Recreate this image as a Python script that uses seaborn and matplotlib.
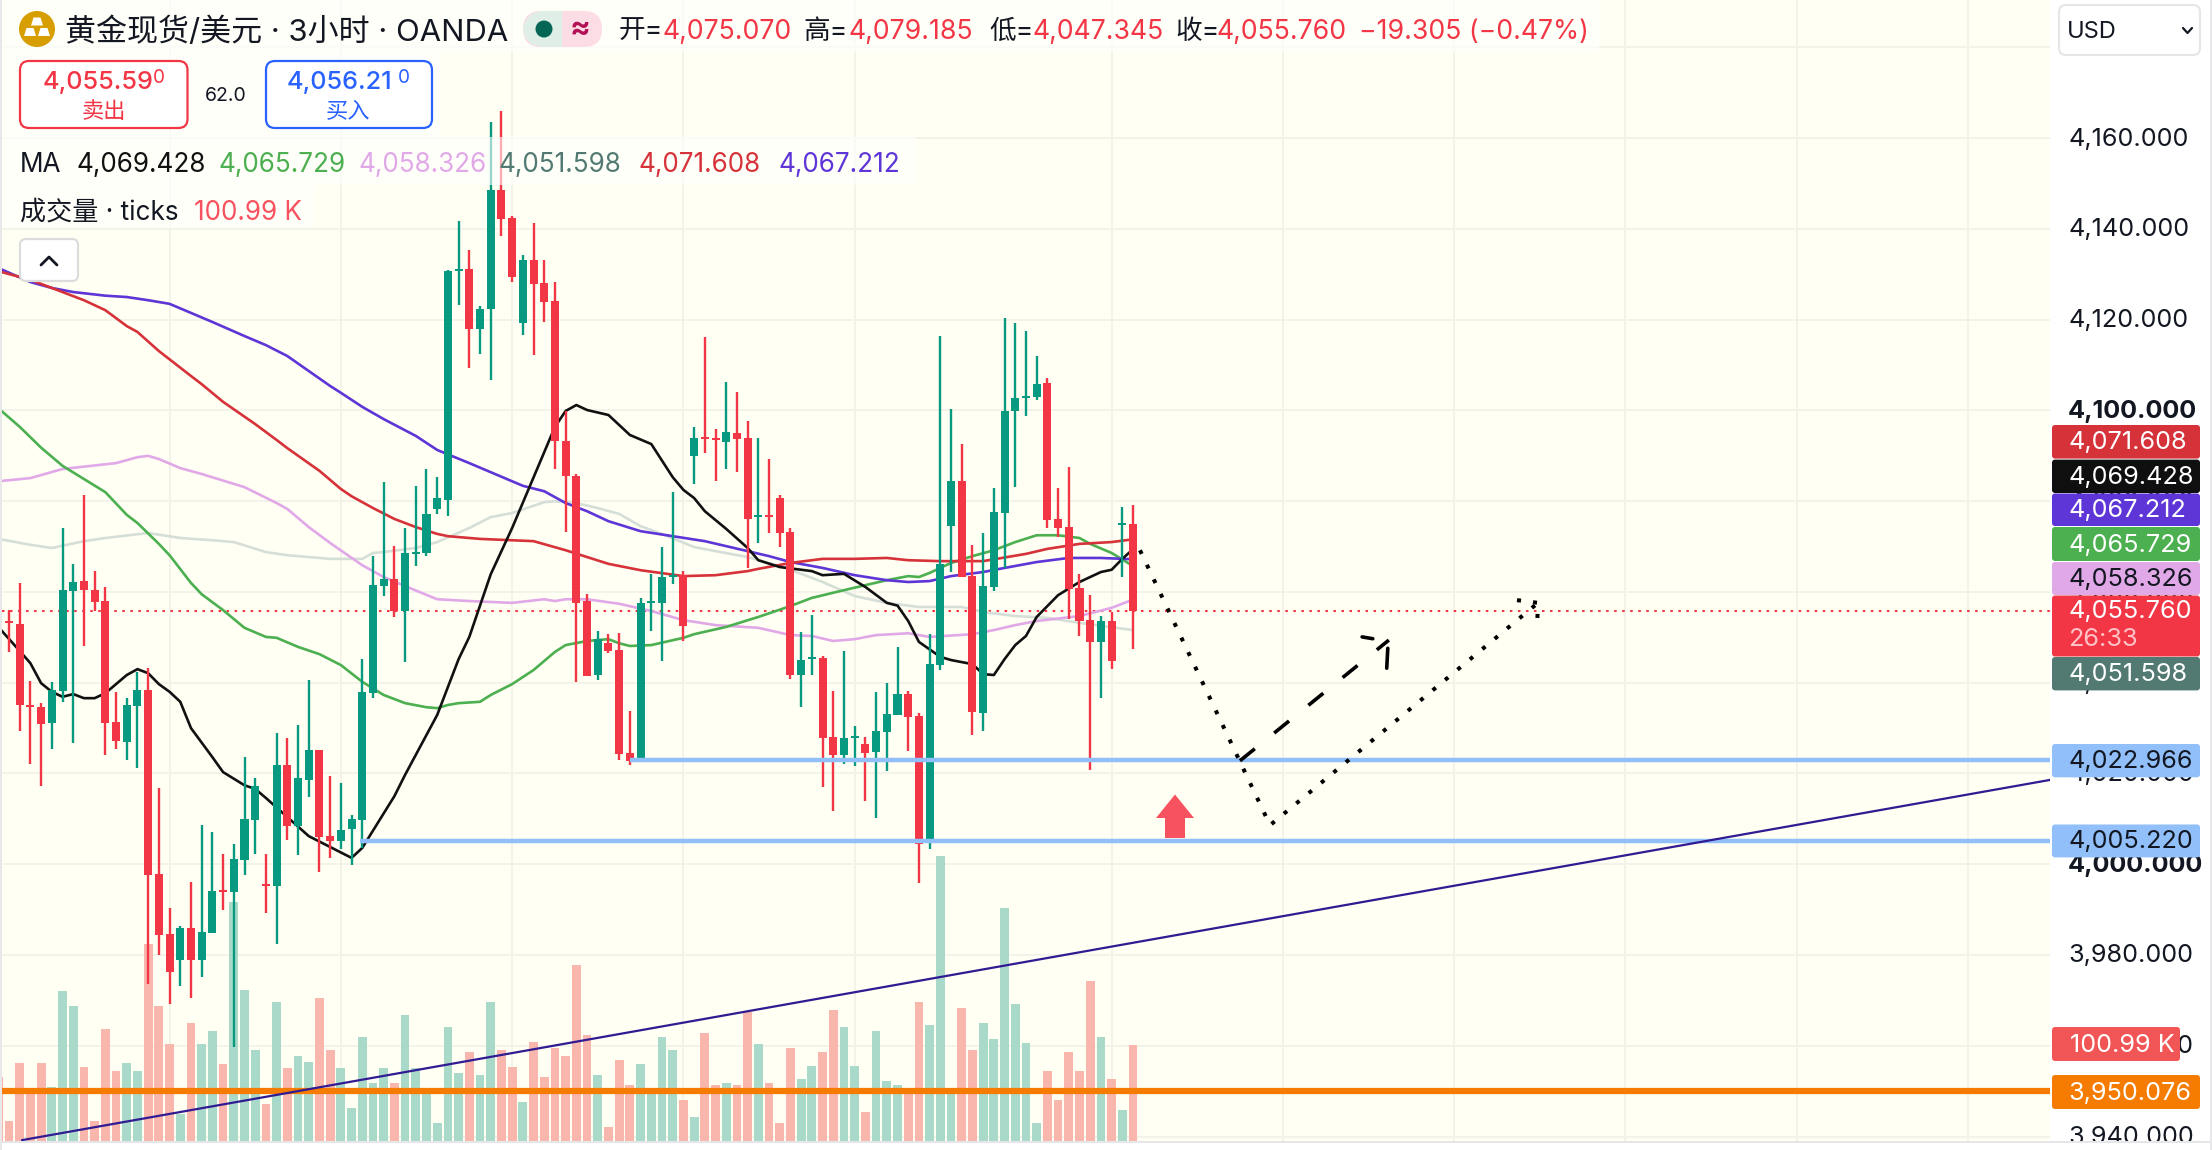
# Gold spot / USD, 3h candles with six moving averages and tick volume

import numpy as np
import pandas as pd
import matplotlib.pyplot as plt
import seaborn as sns
from matplotlib.patches import Circle, FancyBboxPatch, Polygon, Rectangle

# --- Data ---

opens = [4053.5, 4052.9, 4035.0, 4034.6, 4031.1, 4038.2, 4060.2, 4062.4, 4060.4, 4058.0,
         4031.3, 4027.0, 4034.9, 4038.4, 3997.8, 3984.6, 3978.9, 3985.9, 3978.9, 3984.8,
         3994.3, 3993.9, 4000.9, 4009.7, 3995.5, 3995.2, 4021.9, 4008.4, 4018.6, 4025.2,
         4006.2, 4005.1, 4007.8, 4009.7, 4037.7, 4061.3, 4062.9, 4055.8, 4068.5, 4068.6,
         4078.3, 4080.3, 4130.8, 4131.2, 4117.9, 4122.4, 4148.6, 4142.4, 4119.3, 4133.2,
         4128.1, 4124.1, 4093.3, 4085.6, 4058.0, 4041.7, 4048.7, 4047.2, 4024.5, 4022.8,
         4057.7, 4057.6, 4063.4, 4063.7, 4090.0, 4094.0, 4093.8, 4093.0, 4095.0, 4093.9,
         4076.6, 4076.8, 4080.7, 4073.2, 4041.7, 4045.4, 4045.5, 4028.0, 4024.1, 4027.9,
         4026.5, 4024.7, 4029.1, 4032.9, 4037.5, 4032.7, 4004.7, 4043.9, 4074.5, 4084.5,
         4063.5, 4033.3, 4061.1, 4077.4, 4099.9, 4102.9, 4103.0, 4106.0, 4076.1, 4074.3,
         4060.9, 4053.8, 4049.0, 4053.6, 4074.8, 4075.07]
highs = [4056.0, 4062.0, 4040.4, 4035.5, 4040.2, 4074.1, 4066.2, 4081.4, 4064.6, 4061.1,
         4038.0, 4036.6, 4042.4, 4043.2, 4016.8, 3990.3, 3986.4, 3996.1, 4008.6, 4007.1,
         4002.2, 4004.4, 4023.6, 4019.0, 4002.2, 4028.9, 4027.8, 4030.7, 4040.6, 4025.2,
         4019.4, 4017.9, 4010.8, 4045.2, 4067.9, 4084.2, 4070.1, 4074.1, 4083.4, 4087.1,
         4085.3, 4131.0, 4141.8, 4135.4, 4123.0, 4163.6, 4166.0, 4142.9, 4134.3, 4141.3,
         4133.2, 4128.3, 4099.9, 4086.0, 4059.5, 4051.4, 4050.7, 4051.0, 4033.8, 4058.7,
         4064.0, 4069.9, 4082.0, 4064.6, 4096.4, 4116.2, 4095.9, 4106.3, 4104.1, 4097.7,
         4093.9, 4089.3, 4081.4, 4074.1, 4051.2, 4054.9, 4045.9, 4038.2, 4047.0, 4030.5,
         4028.0, 4038.0, 4040.0, 4047.9, 4038.2, 4033.3, 4050.7, 4116.4, 4100.3, 4092.6,
         4070.4, 4073.0, 4082.9, 4120.4, 4119.3, 4117.5, 4112.0, 4107.1, 4082.9, 4087.5,
         4064.0, 4059.3, 4054.7, 4055.6, 4078.7, 4079.185]
lows = [4046.8, 4029.4, 4022.1, 4017.2, 4025.4, 4035.8, 4026.7, 4048.1, 4055.8, 4024.1,
        4025.4, 4023.0, 4021.2, 3973.6, 3979.9, 3969.2, 3973.2, 3970.5, 3975.1, 3984.8,
        3989.9, 3959.7, 3997.6, 4002.2, 3989.3, 3982.4, 4005.3, 4002.0, 4014.8, 3998.3,
        4001.4, 4003.4, 3999.8, 4003.6, 4036.6, 4059.1, 4054.5, 4044.6, 4065.7, 4067.9,
        4077.2, 4076.7, 4123.2, 4109.4, 4112.4, 4106.7, 4138.4, 4128.3, 4116.6, 4112.2,
        4119.5, 4087.1, 4073.2, 4040.2, 4041.5, 4040.6, 4046.5, 4023.0, 4021.9, 4022.8,
        4051.4, 4044.8, 4061.8, 4049.2, 4083.8, 4090.6, 4084.5, 4087.1, 4086.4, 4065.3,
        4070.8, 4073.0, 4069.9, 4040.8, 4034.6, 4041.7, 4017.0, 4011.7, 4022.1, 4021.6,
        4013.9, 4010.2, 4020.5, 4032.9, 4024.9, 3995.9, 4003.4, 4042.8, 4064.4, 4063.3,
        4028.5, 4029.4, 4060.2, 4065.3, 4083.1, 4098.8, 4102.3, 4074.1, 4072.1, 4054.0,
        4050.3, 4020.8, 4036.6, 4043.0, 4063.3, 4047.345]
closes = [4053.2, 4035.1, 4034.7, 4030.9, 4038.4, 4060.4, 4062.2, 4060.4, 4057.8, 4031.1,
          4027.2, 4035.1, 4038.4, 3997.6, 3984.4, 3976.2, 3985.9, 3978.9, 3985.0, 3994.1,
          3994.0, 4001.1, 4010.0, 4017.2, 3995.2, 4021.9, 4008.4, 4019.0, 4025.2, 4006.0,
          4005.1, 4007.5, 4010.0, 4038.0, 4061.5, 4062.9, 4055.8, 4068.6, 4068.8, 4077.2,
          4080.7, 4130.7, 4131.1, 4117.9, 4122.4, 4148.6, 4142.2, 4129.4, 4133.2, 4127.9,
          4123.9, 4093.3, 4085.6, 4057.6, 4041.5, 4049.6, 4046.9, 4024.3, 4022.8, 4057.6,
          4058.0, 4063.3, 4063.7, 4052.5, 4093.9, 4093.7, 4093.5, 4095.2, 4093.7, 4076.1,
          4076.9, 4076.5, 4073.0, 4041.7, 4045.0, 4045.7, 4027.8, 4024.1, 4027.8, 4028.2,
          4024.5, 4029.4, 4033.1, 4037.5, 4032.4, 4004.4, 4044.1, 4066.2, 4084.5, 4063.3,
          4033.5, 4061.3, 4077.6, 4099.9, 4102.7, 4103.2, 4105.8, 4075.9, 4074.1, 4060.6,
          4053.6, 4049.0, 4053.6, 4044.8, 4075.1, 4055.76]

# the first volume bar belongs to a candle cut off by the left edge (bar -1)
volumes = [67.0, 20.0, 82.0, 54.7, 82.0, 55.8, 156.8, 141.0, 76.8, 20.0, 117.8, 73.6, 82.0, 73.6,
           206.2, 142.0, 101.0, 28.0, 123.1, 101.0, 114.7, 81.0, 250.4, 157.8, 95.7, 37.9, 145.2,
           75.8, 89.4, 83.1, 149.4, 95.7, 75.8, 33.7, 108.4, 60.0, 75.8, 61.0, 131.5, 75.8, 49.0,
           17.9, 118.9, 70.5, 92.6, 69.4, 146.2, 94.7, 76.8, 41.0, 103.1, 66.3, 96.8, 89.4, 184.1,
           110.5, 69.4, 13.7, 84.2, 57.9, 80.0, 50.9, 109.4, 95.7, 42.1, 24.2, 113.6, 58.9, 60.0,
           58.9, 134.7, 101.0, 60.0, 18.9, 96.8, 65.2, 77.9, 92.6, 137.8, 119.9, 77.9, 29.5, 115.7,
           62.1, 57.9, 49.1, 145.2, 121.0, 299.8, 49.8, 139.9, 95.7, 124.1, 107.3, 245.1, 143.1,
           102.1, 18.9, 72.6, 42.1, 93.6, 73.6, 168.3, 108.4, 65.2, 31.6, 100.99]

ma_black_x = [-1, 1, 2, 3, 4, 5, 6, 7, 8, 9, 11, 12, 13, 14, 15, 16, 17, 19, 20, 22, 23, 24, 26, 28,
              30, 32, 33, 36, 37, 40, 42, 43, 45, 47, 51, 52, 53, 54, 56, 58, 60, 62, 63, 64, 65,
              67, 69, 70, 72, 75, 76, 78, 80, 82, 83, 84, 85, 87, 88, 90, 91, 92, 93, 94, 95, 96,
              98, 100, 102, 103, 104, 105]
ma_black_y = [4052.3, 4047.0, 4044.3, 4039.9, 4038.0, 4036.9, 4037.5, 4036.6, 4036.6, 4037.7, 4041.7,
              4043.0, 4042.1, 4039.7, 4038.0, 4035.8, 4030.0, 4023.6, 4020.3, 4017.4, 4016.6, 4014.6,
              4010.4, 4006.2, 4003.8, 4001.4, 4003.6, 4015.0, 4019.7, 4032.9, 4045.2, 4050.1, 4063.9,
              4074.1, 4096.4, 4099.9, 4101.2, 4100.1, 4099.0, 4094.6, 4092.6, 4085.3, 4082.5, 4080.7,
              4077.8, 4073.9, 4069.7, 4067.0, 4065.5, 4064.6, 4063.7, 4064.0, 4061.1, 4057.6, 4057.0,
              4053.6, 4049.0, 4045.7, 4045.0, 4044.1, 4041.9, 4041.7, 4045.2, 4048.3, 4050.3, 4054.5,
              4059.3, 4062.2, 4064.4, 4064.9, 4067.3, 4069.428]

ma_green_x = [-1, 1, 3, 5, 7, 9, 11, 12, 14, 15, 17, 18, 20, 22, 24, 25, 27, 29, 31, 33, 35, 37, 39,
              40, 41, 42, 44, 45, 47, 49, 51, 52, 54, 56, 57, 58, 60, 63, 64, 67, 70, 73, 75, 78,
              82, 84, 85, 86, 88, 90, 92, 94, 96, 98, 100, 101, 103, 105]
ma_green_y = [4100.5, 4096.4, 4091.8, 4087.8, 4084.9, 4082.0, 4077.0, 4075.2, 4070.6, 4068.1, 4062.0,
              4059.5, 4056.0, 4052.1, 4050.1, 4049.9, 4047.9, 4046.3, 4043.9, 4040.2, 4037.3, 4035.5,
              4034.6, 4034.4, 4035.1, 4035.5, 4035.8, 4037.3, 4039.7, 4042.8, 4046.8, 4048.3, 4049.2,
              4049.6, 4048.7, 4048.1, 4048.3, 4049.9, 4050.7, 4052.3, 4054.5, 4056.9, 4058.7, 4060.4,
              4062.6, 4063.5, 4063.3, 4064.2, 4066.4, 4067.9, 4069.2, 4071.0, 4072.5, 4072.5, 4071.9,
              4070.6, 4068.6, 4065.729]

ma_pink_x = [-1, 2, 5, 10, 12, 13, 14, 16, 18, 22, 25, 26, 28, 30, 33, 35, 37, 40, 43, 47, 50, 51, 52,
             54, 57, 60, 63, 66, 70, 73, 75, 77, 79, 81, 84, 86, 90, 92, 94, 96, 100, 103, 105]
ma_pink_y = [4084.4, 4085.1, 4087.1, 4088.4, 4089.7, 4090.0, 4089.3, 4087.3, 4086.0, 4083.1, 4079.6,
             4078.3, 4074.3, 4070.8, 4065.9, 4063.3, 4061.3, 4058.4, 4058.0, 4057.6, 4058.4, 4058.0,
             4058.4, 4058.4, 4057.4, 4055.8, 4053.8, 4052.7, 4052.1, 4050.5, 4050.3, 4049.2, 4049.6,
             4050.5, 4050.9, 4050.1, 4050.7, 4051.6, 4052.7, 4053.6, 4054.7, 4056.5, 4058.326]

ma_gray_x = [-1, 2, 4, 7, 9, 13, 16, 19, 21, 24, 26, 30, 33, 34, 35, 38, 40, 43, 45, 47, 50, 51, 53,
             55, 57, 59, 61, 64, 66, 69, 72, 74, 76, 79, 82, 85, 89, 91, 94, 97, 100, 105]
ma_gray_y = [4071.7, 4070.4, 4069.7, 4071.2, 4071.9, 4073.0, 4071.9, 4071.4, 4071.0, 4068.8, 4068.1,
             4067.3, 4067.3, 4068.6, 4068.8, 4069.7, 4071.0, 4074.1, 4076.5, 4077.4, 4079.8, 4080.0,
             4079.6, 4078.5, 4077.2, 4074.5, 4072.8, 4069.9, 4069.0, 4067.7, 4065.7, 4064.0, 4062.2,
             4059.1, 4057.6, 4056.7, 4056.7, 4055.6, 4054.7, 4054.3, 4053.2, 4051.598]

ma_red_x = [-1, 2, 4, 7, 9, 11, 12, 14, 17, 18, 20, 23, 25, 26, 29, 31, 32, 34, 36, 38, 40, 41, 44,
            47, 49, 52, 54, 56, 59, 63, 66, 69, 70, 73, 76, 79, 82, 84, 87, 91, 95, 97, 100, 103, 105]
ma_red_y = [4130.7, 4128.8, 4127.0, 4124.3, 4122.1, 4118.6, 4117.3, 4113.1, 4107.6, 4105.8, 4101.9,
            4097.0, 4093.5, 4091.7, 4086.7, 4082.7, 4081.1, 4078.5, 4076.1, 4074.3, 4072.8, 4072.3,
            4071.7, 4071.4, 4071.2, 4069.2, 4067.7, 4066.2, 4064.8, 4063.5, 4063.7, 4064.6, 4065.1,
            4066.4, 4067.3, 4067.3, 4067.5, 4067.0, 4066.8, 4066.8, 4068.4, 4069.5, 4070.6, 4071.0,
            4071.608]

ma_violet_x = [-1, 2, 4, 6, 9, 11, 13, 15, 17, 19, 22, 24, 26, 28, 30, 31, 33, 35, 38, 40, 43, 45, 48,
               50, 52, 54, 56, 59, 62, 65, 69, 71, 73, 76, 79, 82, 84, 86, 88, 91, 93, 96, 99, 102, 105]
ma_violet_y = [4131.4, 4128.3, 4127.0, 4126.1, 4125.3, 4125.0, 4124.3, 4123.5, 4121.5, 4119.5, 4116.4,
               4114.4, 4112.0, 4108.7, 4105.4, 4103.9, 4100.8, 4098.1, 4094.4, 4091.3, 4088.4, 4086.4,
               4083.4, 4082.2, 4079.6, 4077.8, 4075.6, 4073.4, 4072.3, 4071.2, 4069.0, 4067.9, 4066.6,
               4065.3, 4063.7, 4062.6, 4062.2, 4062.4, 4063.5, 4064.4, 4065.3, 4066.6, 4067.5, 4067.5,
               4067.212]

grid_prices = list(range(3940, 4181, 20))
grid_bars = [15, 31, 47, 63, 79, 103, 119, 135, 151, 167, 183]

support_high = 4022.966
support_low = 4005.220
last_close = 4055.760
orange_level = 3950.076
trend_x = [1.21, 190.7]
trend_y = [3939.2, 4018.6]

# hand-drawn scenario lines
path_x = [105.65, 117.8, 142.83]
path_y = [4069.2, 4008.6, 4057.6]
path_head_x = [140.87, 142.83, 142.74]
path_head_y = [4058.2, 4057.6, 4052.1]
dash_x = [114.99, 128.9]
dash_y = [4022.8, 4049.4]

axis_labels = ['4,160.000', '4,140.000', '4,120.000', '4,100.000', '4,080.000', '4,060.000', '4,040.000',
               '4,020.000', '4,000.000', '3,980.000', '3,960.000', '3,940.000']
axis_prices = [4160, 4140, 4120, 4100, 4080, 4060, 4040, 4020, 4000, 3980, 3960, 3940]

RED = '#f23645'
GREEN = '#089981'
INK = '#131722'
MA_COLORS = {'black': '#111111', 'green': '#4caf50', 'pink': '#e1a8e8',
             'gray': '#d5dfd8', 'red': '#d63239', 'violet': '#5e35d6'}

# --- Figure ---

sns.set_theme(style='white')
plt.rcParams['font.family'] = ['Inter', 'Noto Sans CJK SC', 'DejaVu Sans']

W, H = 2212, 1150
fig = plt.figure(figsize=(W / 100, H / 100), dpi=100, facecolor='white')

plot_left, plot_right, plot_bottom = 2, 2050, 1140.5
rect = [plot_left / W, (H - plot_bottom) / H, (plot_right - plot_left) / W, plot_bottom / H]
ax_vol = fig.add_axes(rect, zorder=1, facecolor='#fffff3')
ax = fig.add_axes(rect, zorder=2, facecolor='none')

xlim = (-0.654, 190.66)
ylim = (3939.12, 4190.46)

# grid
for p in grid_prices:
    ax_vol.axhline((p - ylim[0]) / (ylim[1] - ylim[0]) * 1199.8, color='#f3f3ea', lw=1.4, zorder=0)
for b in grid_bars:
    ax_vol.axvline(b, color='#f3f3ea', lw=1.4, zorder=0)

# volume
df_vol = pd.DataFrame({
    'bar': np.arange(-1, 106),
    'vol': volumes,
    'side': ['down'] + ['up' if c >= o else 'down' for o, c in zip(opens, closes)],
})
sns.barplot(data=df_vol, x='bar', y='vol', hue='side', native_scale=True, dodge=False, width=0.82,
            palette={'up': '#a9dac9', 'down': '#f8b6ac'}, saturation=1, legend=False, ax=ax_vol, zorder=1,
            linewidth=0, edgecolor='none')
ax_vol.set_xlim(*xlim)
ax_vol.set_ylim(0, 1199.8)

# moving averages, behind the candles
series = [('gray', ma_gray_x, ma_gray_y), ('pink', ma_pink_x, ma_pink_y), ('green', ma_green_x, ma_green_y),
          ('violet', ma_violet_x, ma_violet_y), ('red', ma_red_x, ma_red_y), ('black', ma_black_x, ma_black_y)]
for name, xs, ys in series:
    sns.lineplot(x=xs, y=ys, color=MA_COLORS[name], lw=1.9, errorbar=None, ax=ax, zorder=2)

# last price
ax.axhline(last_close, color=RED, lw=1.5, ls=(0, (1.2, 2.65)), zorder=1.5)

# candles
bars = np.arange(len(opens))
o, h, l, c = map(np.array, (opens, highs, lows, closes))
colors = [GREEN if ci >= oi else RED for oi, ci in zip(o, c)]
ax.vlines(bars, l, h, colors=colors, lw=1.7, zorder=3)
body_h = np.maximum(np.abs(c - o), 0.45)
body_b = (o + c) / 2 - body_h / 2
ax.bar(bars, body_h, bottom=body_b, width=0.75, color=colors, linewidth=0, zorder=3)

# horizontal levels and trend line
ax.hlines(support_high, 58.0, xlim[1], color='#90bff9', lw=3.2, zorder=4)
ax.hlines(support_low, 32.8, xlim[1], color='#90bff9', lw=3.2, zorder=4)
ax.axhline(orange_level, color='#f57c00', lw=4.5, zorder=4)
ax.plot(trend_x, trend_y, color='#311b92', lw=1.6, zorder=4)

# scenario drawn on the chart
ax.plot(path_x, path_y, color='black', lw=2.9, ls=(0, (1.0, 3.0)), zorder=5)
ax.plot(path_head_x, path_head_y, color='black', lw=2.9, ls=(0, (1.0, 3.0)), zorder=5)
ax.plot(dash_x, dash_y, color='black', lw=2.6, ls=(0, (5.3, 6.9)), zorder=5)
ax.plot([126.4, 127.4], [4050.1, 4049.7], color='black', lw=2.6, zorder=5)
ax.plot([128.8, 128.7], [4047.6, 4043.2], color='black', lw=2.6, zorder=5)

ax.set_xlim(*xlim)
ax.set_ylim(*ylim)
ax.axis('off')
ax_vol.set_xticks([])
ax_vol.set_yticks([])
ax_vol.set_xlabel('')
ax_vol.set_ylabel('')
for s in ax_vol.spines.values():
    s.set_visible(False)

# --- Overlay in pixel coordinates: legend, buttons, price scale ---

ov = fig.add_axes([0, 0, 1, 1], zorder=10, facecolor='none')
ov.set_xlim(0, W)
ov.set_ylim(H, 0)
ov.axis('off')


def txt(x, y, s, color=INK, size=19, ha='left', weight='normal', zorder=6):
    ov.text(x, y, s, color=color, fontsize=size, ha=ha, va='center', fontweight=weight, zorder=zorder)


def box(x0, y0, x1, y1, fc, ec='none', lw=0, radius=4, alpha=1, zorder=5):
    ov.add_patch(FancyBboxPatch((x0 + radius, y0 + radius), x1 - x0 - 2 * radius, y1 - y0 - 2 * radius,
                                boxstyle=f'round,pad={radius},rounding_size={radius}', fc=fc, ec=ec, lw=lw,
                                alpha=alpha, zorder=zorder))


# up arrow on the chart
ov.add_patch(Polygon([(1175, 794.5), (1194, 818), (1185, 818), (1185, 838), (1165, 838), (1165, 818), (1156, 818)],
                     fc='#f7525f', ec='none', zorder=2))

# translucent strips behind the legend rows
for x1, y0, y1 in [(1599, 0, 52), (440, 52, 137), (916, 137, 185), (314, 185, 228)]:
    ov.add_patch(Rectangle((0, y0), x1, y1 - y0, fc='white', ec='none', alpha=0.6, zorder=3))

# title row
ov.add_patch(Circle((37, 29), 18, fc='#d69e00', ec='none', zorder=5))
for cx, cy in [(37, 21.5), (30, 32), (44, 32)]:
    ov.add_patch(Polygon([(cx - 3.5, cy - 4), (cx + 3.5, cy - 4), (cx + 6, cy + 4), (cx - 6, cy + 4)],
                         fc='white', ec='none', zorder=6))
txt(65, 32, '黄金现货/美元 · 3小时 · OANDA', size=22.3)
box(523, 11, 602, 47, '#fcdde6', radius=18, zorder=4)
ov.add_patch(Rectangle((541, 11), 21, 36, fc='#e0eee8', ec='none', zorder=5))
ov.add_patch(Polygon([(541, 11), (531, 14), (525, 22), (523, 29), (525, 37), (531, 44), (541, 47)],
                     fc='#e0eee8', ec='none', zorder=5))
ov.add_patch(Circle((544, 29), 8.5, fc='#056656', ec='none', zorder=6))
txt(580, 29, '≈', color='#b21156', size=22, ha='center', weight='bold')

txt(619, 32, '开=', size=19.2)
txt(663, 32, '4,075.070', color=RED, size=19.2)
txt(803, 32, '高=', size=19.2)
txt(848, 32, '4,079.185', color=RED, size=19.2)
txt(989, 32, '低=', size=19.2)
txt(1032, 32, '4,047.345', color=RED, size=19.2)
txt(1175, 32, '收=', size=19.2)
txt(1217, 32, '4,055.760', color=RED, size=19.2)
txt(1359, 32, '−19.305 (−0.47%)', color=RED, size=19.2)

# sell / buy buttons
box(20, 61, 187.5, 128, 'white', ec=RED, lw=1.6, radius=9)
txt(43, 83, '4,055.59', color=RED, size=18.2, weight='medium')
txt(153, 78, '0', color=RED, size=13.7)
txt(103.5, 112, '卖出', color=RED, size=16, ha='center')
txt(226, 96, '62.0', size=14, ha='center')
box(266, 61, 432, 128, 'white', ec='#2962ff', lw=1.6, radius=9)
txt(287, 83, '4,056.21', color='#2962ff', size=18.2, weight='medium')
txt(398, 78, '0', color='#2962ff', size=13.7)
txt(348, 112, '买入', color='#2962ff', size=16, ha='center')

# indicators legend
txt(20, 165, 'MA', size=18.8)
ma_legend = [(76.5, '4,069.428', 'black'), (218, '4,065.729', 'green'), (358, '4,058.326', 'pink'),
             (499, '4,051.598', None), (638, '4,071.608', 'red'), (779, '4,067.212', 'violet')]
for x, s, name in ma_legend:
    txt(x, 165, s, color=MA_COLORS[name] if name else '#527a72', size=18.8)
txt(20, 213, '成交量 · ticks', size=18.8)
txt(194.5, 213, '100.99 K', color='#f7525f', size=18.8)

# collapse button
box(20, 239, 78, 281, 'white', ec='#dcdcdc', lw=1.6, radius=6)
ov.plot([41, 49, 57], [265, 257, 265], color=INK, lw=2, zorder=6)

# price scale
ov.add_patch(Rectangle((2050, 0), W - 2050, H, fc='white', ec='none', zorder=1))
box(2059, 5, 2200, 55, 'white', ec='#e6e6e6', lw=1.5, radius=7, zorder=2)
txt(2067, 32, 'USD', size=17)
ov.plot([2183, 2187.5, 2192], [28, 33, 28], color=INK, lw=1.6, zorder=6)

for price, label in zip(axis_prices, axis_labels):
    y = plot_bottom * (ylim[1] - price) / (ylim[1] - ylim[0])
    bold = price in (4100, 4000)
    txt(2068, y + 1, label, size=18.2, weight='bold' if bold else 'normal', zorder=2)

# price tags, they sit above the scale numbers
tags = [(425, 458.6, '#d63239', '4,071.608', 'white'), (459.6, 493, '#0f0f0f', '4,069.428', 'white'),
        (493.5, 526, '#5e35d6', '4,067.212', 'white'), (527, 561, '#4caf50', '4,065.729', 'white'),
        (562, 595, '#e1a8e8', '4,058.326', INK), (657, 690.4, '#527a72', '4,051.598', 'white'),
        (744, 777.3, '#90bff9', '4,022.966', INK), (824.5, 857.4, '#90bff9', '4,005.220', INK),
        (1075, 1109, '#f57c00', '3,950.076', 'white')]
for y0, y1, fc, label, tc in tags:
    box(2052, y0, 2200, y1, fc, radius=3, zorder=4)
    txt(2068, (y0 + y1) / 2 + 1, label, color=tc, size=18.2)
box(2052, 595.5, 2200, 656.5, RED, radius=3, zorder=4)
txt(2068, 612, '4,055.760', color='white', size=18.2)
txt(2068, 640, '26:33', color='#ffc2c7', size=18.2)
box(2052, 1027, 2180, 1061, '#f25555', radius=3, zorder=4)
txt(2070, 1045, '100.99 K', color='white', size=18.2)

# frame
ov.add_patch(Rectangle((0, 1141), W, 9, fc='white', ec='none', zorder=7))
ov.add_patch(Rectangle((0, 1140.5), W, 2.2, fc='#e6e6ea', ec='none', zorder=8))
ov.add_patch(Rectangle((0, 0), 2, H, fc='#e8e8ea', ec='none', zorder=8))
ov.add_patch(Rectangle((2210, 0), 2, H, fc='#e8e8ea', ec='none', zorder=8))

fig.savefig('out.png', dpi=100)
